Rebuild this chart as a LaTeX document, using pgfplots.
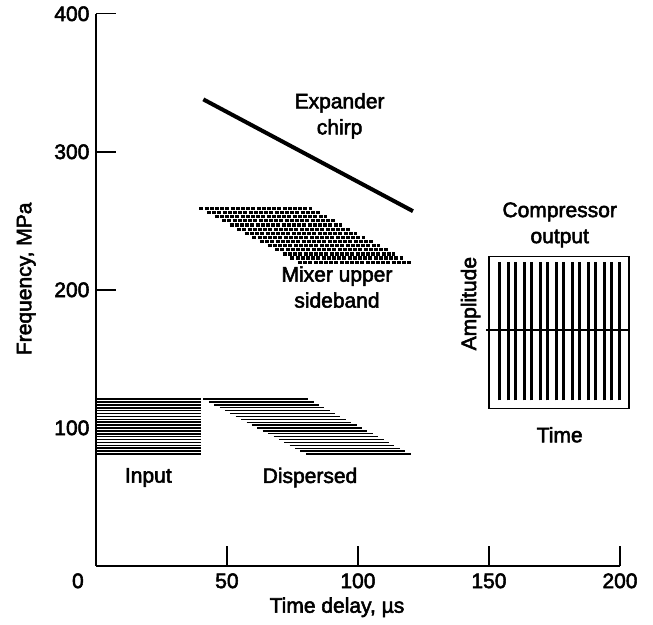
\documentclass[border=0pt]{standalone}
\usepackage{fontspec}
\setmainfont{Liberation Sans}
\newfontfamily\heavy{Liberation Sans}[FakeBold=2.5]
\usepackage{pgfplots}
\pgfplotsset{compat=1.18}
\newcommand{\fs}{\heavy\fontsize{21}{26}\selectfont}
\begin{document}
\begin{tikzpicture}
\begin{axis}[
  scale only axis,
  width=524pt, height=552pt,
  xmin=0, xmax=200, ymin=0, ymax=400,
  axis x line=bottom, axis y line=left,
  axis line style={-, line width=1.8pt},
  xtick={50,100,150,200}, ytick={100,200,300,400},
  tick align=inside,
  major tick length=20pt,
  tick style={line width=1.4pt, black},
  tick label style={font=\fs},
  label style={font=\fs},
  /pgf/number format/assume math mode=true,
  xticklabel style={yshift=-4pt},
  yticklabel style={xshift=-3pt},
  extra x ticks={0},
  extra x tick style={major tick length=0pt, xticklabel style={xshift=-18pt}},
  xlabel={Time delay, µs},
  ylabel={Frequency, MPa},
  xlabel style={at={(axis description cs:0.46,-0.075)}, anchor=center},
  ylabel style={at={(axis description cs:-0.133,0.52)}, anchor=center},
  clip=false,
  unbounded coords=jump,
]
% input band
\addplot[black, line width=1.6pt] coordinates {
(0,81.0) (40,81.0) (40,nan)
(0,83.1) (40,83.1) (40,nan)
(0,85.2) (40,85.2) (40,nan)
(0,87.3) (40,87.3) (40,nan)
(0,89.4) (40,89.4) (40,nan)
(0,91.5) (40,91.5) (40,nan)
(0,93.6) (40,93.6) (40,nan)
(0,95.7) (40,95.7) (40,nan)
(0,97.8) (40,97.8) (40,nan)
(0,99.9) (40,99.9) (40,nan)
(0,102.0) (40,102.0) (40,nan)
(0,104.1) (40,104.1) (40,nan)
(0,106.2) (40,106.2) (40,nan)
(0,108.3) (40,108.3) (40,nan)
(0,110.4) (40,110.4) (40,nan)
(0,112.5) (40,112.5) (40,nan)
(0,114.6) (40,114.6) (40,nan)
(0,116.7) (40,116.7) (40,nan)
(0,118.8) (40,118.8) (40,nan)
(0,120.9) (40,120.9)
};
% dispersed
\addplot[black, line width=1.4pt] coordinates {
(41.0,120.9) (81.0,120.9) (81,nan)
(43.1,118.8) (83.1,118.8) (83,nan)
(45.1,116.7) (85.1,116.7) (85,nan)
(47.2,114.6) (87.2,114.6) (87,nan)
(49.2,112.5) (89.2,112.5) (89,nan)
(51.3,110.4) (91.3,110.4) (91,nan)
(53.3,108.3) (93.3,108.3) (93,nan)
(55.4,106.2) (95.4,106.2) (95,nan)
(57.5,104.1) (97.5,104.1) (97,nan)
(59.5,102.0) (99.5,102.0) (99,nan)
(61.6,99.9) (101.6,99.9) (101,nan)
(63.6,97.8) (103.6,97.8) (103,nan)
(65.7,95.7) (105.7,95.7) (105,nan)
(67.8,93.6) (107.8,93.6) (107,nan)
(69.8,91.5) (109.8,91.5) (109,nan)
(71.9,89.4) (111.9,89.4) (111,nan)
(73.9,87.3) (113.9,87.3) (113,nan)
(76.0,85.2) (116.0,85.2) (116,nan)
(78.0,83.1) (118.0,83.1) (118,nan)
(80.1,81.0) (120.1,81.0)
};
% mixer upper sideband
\addplot[black, line width=3.2pt, dash pattern=on 4pt off 1.2pt] coordinates {
(39.5,259) (82.5,259) (82,nan)
(42.4,256) (85.4,256) (85,nan)
(45.3,253) (88.3,253) (88,nan)
(48.2,250) (91.2,250) (91,nan)
(51.0,247) (94.0,247) (94,nan)
(53.9,244) (96.9,244) (96,nan)
(56.8,241) (99.8,241) (99,nan)
(59.7,238) (102.7,238) (102,nan)
(62.6,235) (105.6,235) (105,nan)
(65.5,232) (108.5,232) (108,nan)
(68.4,229) (111.4,229) (111,nan)
(71.3,226) (114.3,226) (114,nan)
(74.2,223) (117.2,223) (117,nan)
(77.1,220) (120.1,220)
};
% expander chirp
\addplot[black, line width=4pt] coordinates {(41,338) (121,257)};
% compressor output box
\addplot[black, line width=1.5pt] coordinates {(150,114) (203.5,114) (203.5,224) (150,224) (150,114)};
\addplot[black, line width=3pt] coordinates {
(154.2,120) (154.2,220) (154.2,nan)
(157.3,120) (157.3,220) (157.3,nan)
(160.3,120) (160.3,220) (160.3,nan)
(163.4,120) (163.4,220) (163.4,nan)
(166.4,120) (166.4,220) (166.4,nan)
(169.5,120) (169.5,220) (169.5,nan)
(172.5,120) (172.5,220) (172.5,nan)
(175.6,120) (175.6,220) (175.6,nan)
(178.6,120) (178.6,220) (178.6,nan)
(181.7,120) (181.7,220) (181.7,nan)
(184.7,120) (184.7,220) (184.7,nan)
(187.8,120) (187.8,220) (187.8,nan)
(190.8,120) (190.8,220) (190.8,nan)
(193.9,120) (193.9,220) (193.9,nan)
(196.9,120) (196.9,220) (196.9,nan)
(200.0,120) (200.0,220)
};
\addplot[black, line width=2pt] coordinates {(149,171) (203,171)};

\node[align=center, font=\fs] at (axis cs:93,326) {Expander\\chirp};
\node[align=center, font=\fs] at (axis cs:92,202) {Mixer upper\\sideband};
\node[font=\fs] at (axis cs:20,64) {Input};
\node[font=\fs] at (axis cs:81.7,64) {Dispersed};
\node[align=center, font=\fs] at (axis cs:177,247) {Compressor\\output};
\node[font=\fs] at (axis cs:177,95) {Time};
\node[rotate=90, font=\fs] at (axis cs:143,190) {Amplitude};
\path (axis description cs:-0.183,-0.107) rectangle (axis description cs:1.063,1.025);
\end{axis}
\end{tikzpicture}
\end{document}
